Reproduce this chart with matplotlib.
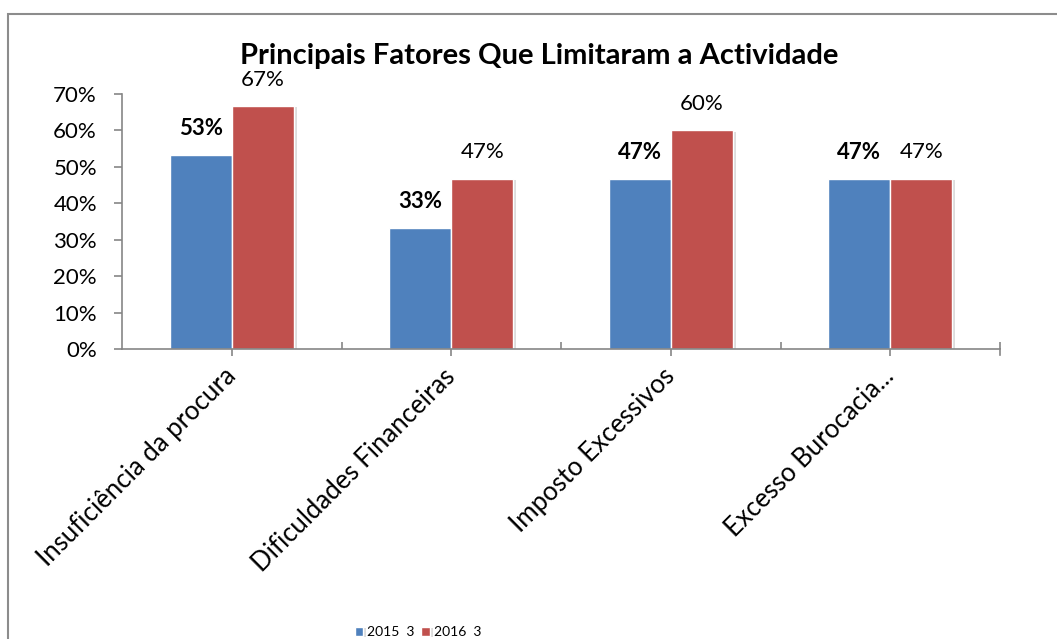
import numpy as np
import matplotlib
matplotlib.use("Agg")
import matplotlib.pyplot as plt
import matplotlib.patheffects as pe
from matplotlib.patches import Rectangle
from matplotlib.ticker import PercentFormatter

categorias = ["Insuficiência da procura", "Dificuldades Financeiras",
              "Imposto Excessivos", "Excesso Burocacia..."]
valores_2015 = [0.533, 0.333, 0.467, 0.467]
valores_2016 = [0.667, 0.467, 0.600, 0.467]
rotulos_2015 = ["53%", "33%", "47%", "47%"]
rotulos_2016 = ["67%", "47%", "60%", "47%"]
series = ["2015  3", "2016  3"]

plt.rcParams["font.family"] = ["Lato", "DejaVu Sans"]

fig = plt.figure(figsize=(10.57, 6.39), dpi=100)
ax = fig.add_axes([122 / 1057, 1 - 349 / 639, 878 / 1057, 255 / 639])

# moldura do gráfico
fig.patches.append(Rectangle((8 / 1057, -0.1), 1.2, 1 - 14 / 639 + 0.1,
                             transform=fig.transFigure, fill=False,
                             edgecolor="#8c8c8c", linewidth=1.5))

x = np.arange(len(categorias))
w = 0.283
sombra = [pe.SimplePatchShadow(offset=(2, -1), alpha=0.25, shadow_rgbFace="#777777"), pe.Normal()]
b1 = ax.bar(x - w / 2, valores_2015, w, color="#4F81BD", edgecolor="white",
            linewidth=1, label=series[0], path_effects=sombra)
b2 = ax.bar(x + w / 2, valores_2016, w, color="#C0504D", edgecolor="white",
            linewidth=1, label=series[1], path_effects=sombra)

for xi, v, t in zip(x, valores_2015, rotulos_2015):
    ax.annotate(t, (xi - w / 2, v), xytext=(0, 19), textcoords="offset points",
                ha="center", va="center", fontsize=16, fontweight="bold")
for xi, v, t in zip(x, valores_2016, rotulos_2016):
    ax.annotate(t, (xi + w / 2, v), xytext=(0, 19), textcoords="offset points",
                ha="center", va="center", fontsize=16)

ax.set_xlim(-0.5, 3.5)
ax.set_ylim(0, 0.7)
ax.set_yticks(np.arange(0, 0.71, 0.1))
ax.yaxis.set_major_formatter(PercentFormatter(1.0, decimals=0))
ax.set_xticks(x)
ax.set_xticklabels(categorias, rotation=45, ha="right", va="center",
                   rotation_mode="anchor", fontsize=18.5)
ax.set_xticks([0.5, 1.5, 2.5, 3.5], minor=True)

for s in ["top", "right"]:
    ax.spines[s].set_visible(False)
for s in ["left", "bottom"]:
    ax.spines[s].set_color("#868686")
    ax.spines[s].set_linewidth(1.2)

ax.tick_params(axis="y", direction="out", length=6, color="#868686", width=1.2,
               labelsize=16, pad=12)
ax.tick_params(axis="x", which="major", direction="out", length=5, color="#868686",
               width=1.2, pad=12)
ax.tick_params(axis="x", which="minor", direction="in", length=5, color="#868686", width=1.2)
ax.plot([3.5, 3.5], [-0.025, 0], transform=ax.get_xaxis_transform(),
        color="#868686", linewidth=1.2, clip_on=False)

fig.text(539 / 1057, 1 - 56 / 639, "Principais Fatores Que Limitaram a Actividade",
         ha="center", va="center", fontsize=21, fontweight="bold")

fig.legend(handles=[b1, b2], labels=series, loc="center",
           bbox_to_anchor=(418 / 1057, 1 - 632 / 639), ncol=2, frameon=False,
           fontsize=10, handlelength=0.6, handleheight=0.6, handletextpad=0.3,
           columnspacing=0.5, borderpad=0)

fig.savefig("out.png", dpi=100)
